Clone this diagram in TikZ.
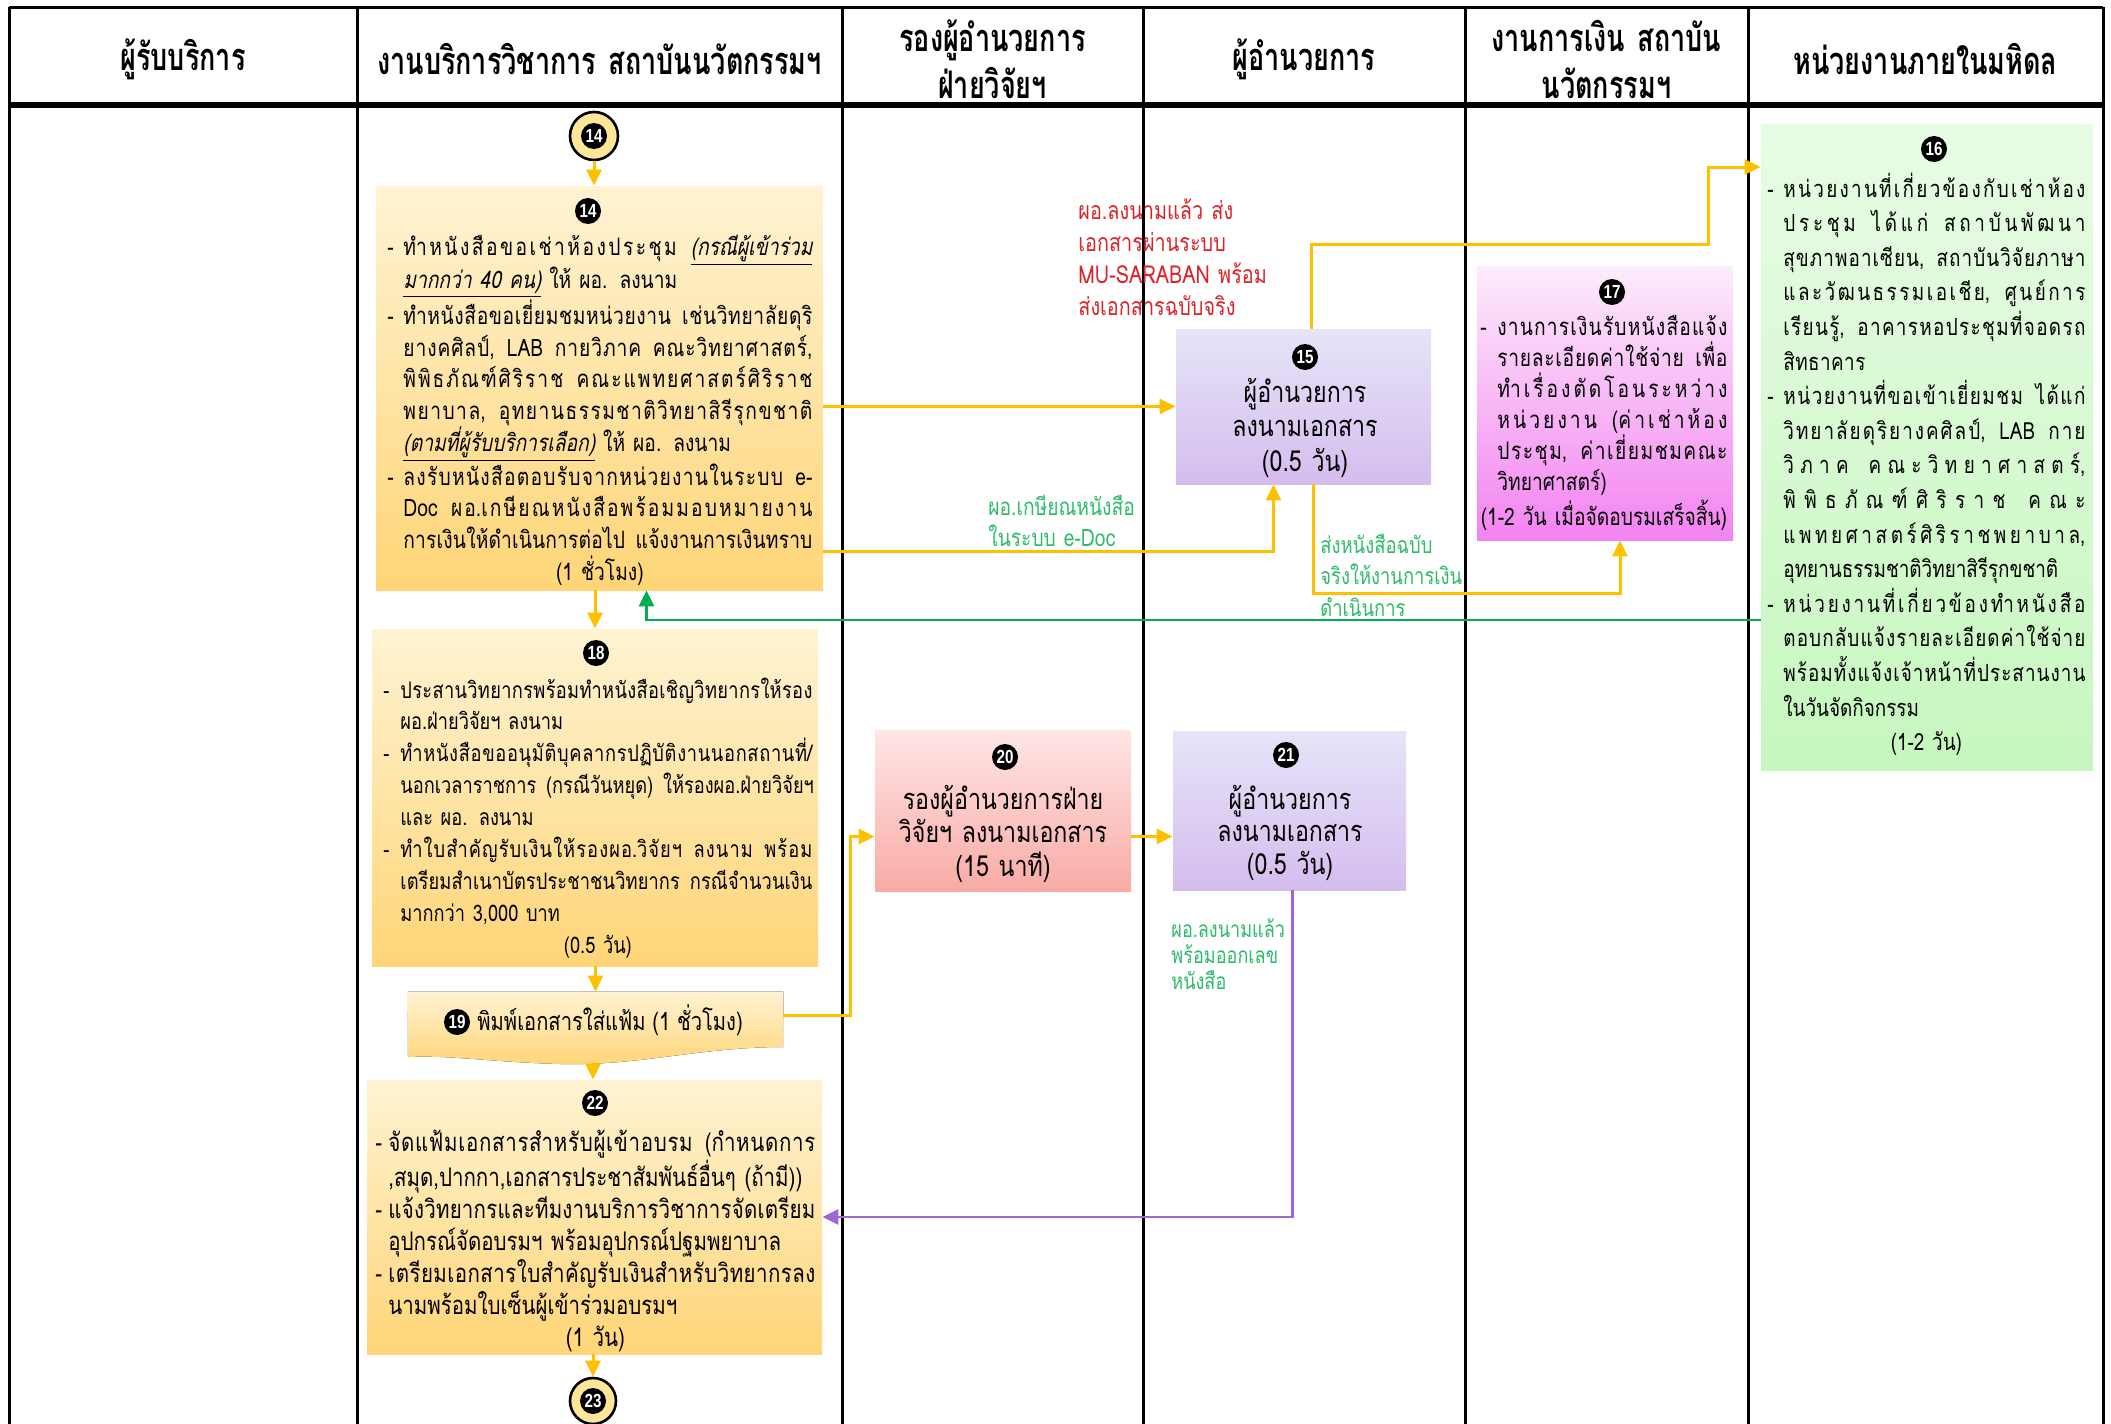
\documentclass[tikz,border=0pt]{standalone}
\usepackage{fontspec}
\usetikzlibrary{arrows.meta,calc}
\setmainfont[Script=Thai,FakeStretch=0.8]{Loma}
\newfontfamily\hfont[Script=Thai,FakeStretch=0.71]{Loma}
\newfontfamily\itfont[Script=Thai,FakeStretch=0.8,FakeSlant=0.2]{Loma}
\newfontfamily\numfont[FakeStretch=0.8]{Liberation Sans}
% ---- Thai distributed justification (glue between character clusters) ----
\newXeTeXintercharclass\thB
\newXeTeXintercharclass\thM
\newcount\tcnt
\tcnt="0E01
\loop\XeTeXcharclass\tcnt=\thB\advance\tcnt by 1\ifnum\tcnt<"0E5C\repeat
\XeTeXcharclass"0E31=\thM
\tcnt="0E33
\loop\XeTeXcharclass\tcnt=\thM\advance\tcnt by 1\ifnum\tcnt<"0E3B\repeat
\tcnt="0E47
\loop\XeTeXcharclass\tcnt=\thM\advance\tcnt by 1\ifnum\tcnt<"0E4F\repeat
\XeTeXinterchartoks\thB\thB={\hskip0pt plus 1fil\relax}
\XeTeXinterchartoks\thM\thB={\hskip0pt plus 1fil\relax}
\newlength\jw
\newlength\dw
\newcommand\Jl[1]{\hbox to \jw{\XeTeXinterchartokenstate=1
  \spaceskip=1.6\fontdimen2\font plus 1.5fil\relax #1}}
\newcommand\Dsh{\makebox[\dw][l]{-}}
\newcommand\Ind{\hspace*{\dw}}
\newcommand\Cl[1]{\makebox[\dimexpr\dw+\jw\relax]{#1}}
\definecolor{yTop}{HTML}{FFF3D3}
\definecolor{yBot}{HTML}{FFD577}
\definecolor{pTop}{HTML}{E6E4F8}
\definecolor{pBot}{HTML}{D5BDEE}
\definecolor{rTop}{HTML}{FFE6E6}
\definecolor{rBot}{HTML}{F8ABA5}
\definecolor{mTop}{HTML}{FCECFB}
\definecolor{mBot}{HTML}{F383F1}
\definecolor{gTop}{HTML}{E8FCE5}
\definecolor{gBot}{HTML}{C6F7BE}
\definecolor{cYel}{HTML}{FFE699}
\definecolor{arrOr}{HTML}{FFC000}
\definecolor{arrGr}{HTML}{00B050}
\definecolor{arrPu}{HTML}{A066D3}
\definecolor{lblGr}{HTML}{2EBB6A}
\definecolor{lblRd}{HTML}{DC2328}
\tikzset{
  lane/.style={line width=1.5pt,black},
  oarrow/.style={draw=arrOr,line width=1.5pt,-{Triangle[length=8pt,width=7.5pt]}},
  garrow/.style={draw=arrGr,line width=1.4pt,-{Triangle[length=8pt,width=7.5pt]}},
  parrow/.style={draw=arrPu,line width=1.4pt,-{Triangle[length=8pt,width=7.5pt]}},
  badge/.style={circle,fill=black,text=white,inner sep=0pt,minimum size=13pt,
    font=\numfont\bfseries\fontsize{9.5}{9.5}\selectfont},
  endcirc/.style={circle,fill=cYel,draw=black,line width=1.3pt,inner sep=0pt},
  ybox/.style={rectangle,inner sep=0pt,top color=yTop,bottom color=yBot},
  pbox/.style={rectangle,inner sep=0pt,top color=pTop,bottom color=pBot},
  rbox/.style={rectangle,inner sep=0pt,top color=rTop,bottom color=rBot},
  mbox/.style={rectangle,inner sep=0pt,top color=mTop,bottom color=mBot},
  gbox/.style={rectangle,inner sep=0pt,top color=gTop,bottom color=gBot},
  hdr/.style={inner sep=0pt,align=center,text width=235pt,
    font=\hfont\bfseries\fontsize{19}{23.5}\selectfont},
  txt/.style={anchor=base west,inner sep=0pt,align=left},
  ctxt/.style={anchor=base,inner sep=0pt,align=center},
}
\begin{document}
\begin{tikzpicture}[x=0.5pt,y=-0.5pt]
\useasboundingbox (0,0) rectangle (2111,1424);
% ---------- swimlane frame ----------
\draw[lane] (9,7) -- (2103,7);
\foreach \x in {9,357,842,1143,1465,1748,2103} \draw[lane] (\x,7) -- (\x,1424);
\draw[line width=3pt] (9,105) -- (2103,105);
% ---------- headers ----------
\node[hdr,text width=170pt] (h1) at (183,59) {ผู้รับบริการ};
\node[hdr] (h2) at (599.5,59) {งานบริการวิชาการ สถาบันนวัตกรรมฯ};
\node[hdr,text width=145pt] (h3) at (992.5,59.5) {รองผู้อำนวยการ\\ฝ่ายวิจัยฯ};
\node[hdr,text width=155pt] (h4) at (1304,59) {ผู้อำนวยการ};
\node[hdr,text width=140pt] (h5) at (1606.5,59.5) {งานการเงิน สถาบัน\\นวัตกรรมฯ};
\node[hdr,text width=175pt] (h6) at (1925.5,59) {หน่วยงานภายในมหิดล};
% ---------- boxes ----------
\node[endcirc,minimum size=24pt] (c14) at (594,136) {};
\node[badge] (n14a) at (594,136) {14};
\node[ybox,minimum width=223.5pt,minimum height=202pt] (b14) at (599.5,388) {};
\node[ybox,minimum width=223pt,minimum height=168.5pt] (b18) at (595,797.5) {};
\node[rectangle,inner sep=0pt,minimum width=187.5pt,minimum height=29pt] (b19) at (595.5,1021) {};
\fill[top color=yTop,bottom color=yBot] (b19.north west) -- (b19.north east) -- (783,1047)
  .. controls (700,1047) and (640,1066) .. (560,1064)
  .. controls (490,1062) and (450,1055) .. (408,1057) -- cycle;
\coordinate (b19w) at (593,1063);
\node[ybox,minimum width=227.5pt,minimum height=137pt] (b22) at (594.5,1217) {};
\node[endcirc,minimum size=23pt] (c23) at (593,1401) {};
\node[badge] (n23a) at (593,1401) {23};
\node[pbox,minimum width=127.5pt,minimum height=77.5pt] (b15) at (1303.5,406.5) {};
\node[mbox,minimum width=128pt,minimum height=137pt] (b17) at (1605,403) {};
\node[gbox,minimum width=166pt,minimum height=323pt] (b16) at (1927,447) {};
\node[rbox,minimum width=128pt,minimum height=80.5pt] (b20) at (1003,810.5) {};
\node[pbox,minimum width=116.5pt,minimum height=79.5pt] (b21) at (1289.5,810.5) {};
% ---------- badges ----------
\node[badge] (n14) at (588,211) {14};
\node[badge] (n15) at (1305,357) {15};
\node[badge] (n16) at (1934,149) {16};
\node[badge] (n17) at (1612,292) {17};
\node[badge] (n18) at (596,653) {18};
\node[badge] (n19) at (457,1022) {19};
\node[badge] (n20) at (1005,757) {20};
\node[badge] (n21) at (1286,755) {21};
\node[badge] (n22) at (595,1103) {22};
% ---------- box texts ----------
\node[txt,text width=225pt,font=\fontsize{12}{15.85}\selectfont] (t14) at (387,255) {%
\setlength\dw{8pt}\setlength\jw{204.5pt}%
\Dsh\Jl{ทำหนังสือขอเช่าห้องประชุม {\itfont\underline{(กรณีผู้เข้าร่วม}}}\\
\Ind{\itfont\underline{มากกว่า 40 คน)}} ให้ ผอ. ลงนาม\\
\Dsh\Jl{ทำหนังสือขอเยี่ยมชมหน่วยงาน เช่นวิทยาลัยดุริ}\\
\Ind\Jl{ยางคศิลป์, LAB กายวิภาค คณะวิทยาศาสตร์,}\\
\Ind\Jl{พิพิธภัณฑ์ศิริราช คณะแพทยศาสตร์ศิริราช}\\
\Ind\Jl{พยาบาล, อุทยานธรรมชาติวิทยาสิรีรุกขชาติ}\\
\Ind{\itfont\underline{(ตามที่ผู้รับบริการเลือก)}} ให้ ผอ. ลงนาม\\
\Dsh\Jl{ลงรับหนังสือตอบรับจากหน่วยงานในระบบ e-}\\
\Ind\Jl{Doc ผอ.เกษียณหนังสือพร้อมมอบหมายงาน}\\
\Ind\Jl{การเงินให้ดำเนินการต่อไป แจ้งงานการเงินทราบ}\\
\Cl{(1 ชั่วโมง)}};
\node[txt,text width=228pt,font=\fontsize{11.4}{15.95}\selectfont] (t18) at (383,698) {%
\setlength\dw{8.5pt}\setlength\jw{206pt}%
\Dsh\Jl{ประสานวิทยากรพร้อมทำหนังสือเชิญวิทยากรให้รอง}\\
\Ind ผอ.ฝ่ายวิจัยฯ ลงนาม\\
\Dsh\Jl{ทำหนังสือขออนุมัติบุคลากรปฏิบัติงานนอกสถานที่/}\\
\Ind\Jl{นอกเวลาราชการ (กรณีวันหยุด) ให้รองผอ.ฝ่ายวิจัยฯ}\\
\Ind และ ผอ. ลงนาม\\
\Dsh\Jl{ทำใบสำคัญรับเงินให้รองผอ.วิจัยฯ ลงนาม พร้อม}\\
\Ind\Jl{เตรียมสำเนาบัตรประชาชนวิทยากร กรณีจำนวนเงิน}\\
\Ind มากกว่า 3,000 บาท\\
\Cl{(0.5 วัน)}};
\node[txt,font=\fontsize{12.6}{16}\selectfont] (t19) at (477,1030) {พิมพ์เอกสารใส่แฟ้ม (1 ชั่วโมง)};
\node[txt,text width=235pt,font=\fontsize{12.8}{16}\selectfont] (t22) at (375,1151) {%
\setlength\dw{6.5pt}\setlength\jw{213.5pt}%
\Dsh\Jl{จัดแฟ้มเอกสารสำหรับผู้เข้าอบรม (กำหนดการ}\\
\Ind,สมุด,ปากกา,เอกสารประชาสัมพันธ์อื่นๆ (ถ้ามี))\\
\Dsh\Jl{แจ้งวิทยากรและทีมงานบริการวิชาการจัดเตรียม}\\
\Ind อุปกรณ์จัดอบรมฯ พร้อมอุปกรณ์ปฐมพยาบาล\\
\Dsh\Jl{เตรียมเอกสารใบสำคัญรับเงินสำหรับวิทยากรลง}\\
\Ind นามพร้อมใบเซ็นผู้เข้าร่วมอบรมฯ\\
\Cl{(1 วัน)}};
\node[ctxt,text width=125pt,font=\fontsize{14.5}{17.25}\selectfont] (t15) at (1305,402) {%
ผู้อำนวยการ\\ลงนามเอกสาร\\(0.5 วัน)};
\node[ctxt,text width=125pt,font=\fontsize{14.5}{16.75}\selectfont] (t20) at (1003,809) {%
รองผู้อำนวยการฝ่าย\\วิจัยฯ ลงนามเอกสาร\\(15 นาที)};
\node[ctxt,text width=115pt,font=\fontsize{14.5}{16.25}\selectfont] (t21) at (1290,809) {%
ผู้อำนวยการ\\ลงนามเอกสาร\\(0.5 วัน)};
\node[txt,text width=130pt,font=\fontsize{12}{15.5}\selectfont] (t17) at (1480,335) {%
\setlength\dw{8.5pt}\setlength\jw{115pt}%
\Dsh\Jl{งานการเงินรับหนังสือแจ้ง}\\
\Ind\Jl{รายละเอียดค่าใช้จ่าย เพื่อ}\\
\Ind\Jl{ทำเรื่องตัดโอนระหว่าง}\\
\Ind\Jl{หน่วยงาน (ค่าเช่าห้อง}\\
\Ind\Jl{ประชุม, ค่าเยี่ยมชมคณะ}\\
\Ind วิทยาศาสตร์)\\[2pt]
\Cl{(1-2 วัน เมื่อจัดอบรมเสร็จสิ้น)}};
\node[txt,text width=166pt,font=\fontsize{11.8}{17.3}\selectfont] (t16) at (1767,197) {%
\setlength\dw{8pt}\setlength\jw{151pt}%
\Dsh\Jl{หน่วยงานที่เกี่ยวข้องกับเช่าห้อง}\\
\Ind\Jl{ประชุม ได้แก่ สถาบันพัฒนา}\\
\Ind\Jl{สุขภาพอาเซียน, สถาบันวิจัยภาษา}\\
\Ind\Jl{และวัฒนธรรมเอเชีย, ศูนย์การ}\\
\Ind\Jl{เรียนรู้, อาคารหอประชุมที่จอดรถ}\\
\Ind{\setlength\jw{41pt}\Jl{สิทธาคาร}}\\
\Dsh\Jl{หน่วยงานที่ขอเข้าเยี่ยมชม ได้แก่}\\
\Ind\Jl{วิทยาลัยดุริยางคศิลป์, LAB กาย}\\
\Ind\Jl{วิภาค คณะวิทยาศาสตร์,}\\
\Ind\Jl{พิพิธภัณฑ์ศิริราช คณะ}\\
\Ind\Jl{แพทยศาสตร์ศิริราชพยาบาล,}\\
\Ind อุทยานธรรมชาติวิทยาสิรีรุกขชาติ\\
\Dsh\Jl{หน่วยงานที่เกี่ยวข้องทำหนังสือ}\\
\Ind\Jl{ตอบกลับแจ้งรายละเอียดค่าใช้จ่าย}\\
\Ind\Jl{พร้อมทั้งแจ้งเจ้าหน้าที่ประสานงาน}\\
\Ind ในวันจัดกิจกรรม\\
\Cl{(1-2 วัน)}};
% ---------- connector labels ----------
\node[txt,text width=110pt,text=lblRd,font=\fontsize{12.4}{16.15}\selectfont] (l1) at (1078,219) {%
ผอ.ลงนามแล้ว ส่ง\\เอกสารผ่านระบบ\\MU-SARABAN พร้อม\\ส่งเอกสารฉบับจริง};
\node[txt,text width=90pt,text=lblGr,font=\fontsize{12}{15.5}\selectfont] (l2) at (988,515) {%
ผอ.เกษียณหนังสือ\\ในระบบ e-Doc};
\node[txt,text width=90pt,text=lblGr,font=\fontsize{11.5}{15.75}\selectfont] (l3) at (1320,553) {%
ส่งหนังสือฉบับ\\จริงให้งานการเงิน\\ดำเนินการ};
\node[txt,text width=80pt,text=lblGr,font=\fontsize{11.3}{13}\selectfont] (l4) at (1171,937) {%
ผอ.ลงนามแล้ว\\พร้อมออกเลข\\หนังสือ};
% ---------- connectors ----------
\draw[oarrow] (c14.south) -- (c14.south |- b14.north);
\draw[oarrow] (b18.north |- b14.south) -- (b18.north);
\draw[oarrow] (b19.north |- b18.south) -- (b19.north);
\draw[oarrow] (b19w) -- (b19w |- b22.north);
\draw[oarrow] (c23.north |- b22.south) -- (c23.north);
\draw[oarrow] (b14.east |- b15.west) -- (b15.west);
\draw[oarrow] ($(b14.east)+(0,163)$) -| ($(b15.south)+(-30,0)$);
\coordinate (k0) at (1708,244);
\coordinate (k1) at (1708,167);
\draw[oarrow] ($(b15.north)+(8,0)$) |- (k0) |- (b16.west |- k1);
\draw[oarrow] ($(b15.south)+(10,0)$) |- ($(b17.south)+(15,53)$) -- ($(b17.south)+(15,0)$);
\draw[garrow] ($(b16.west)+(0,173)$) -| ($(b14.south)+(47,0)$);
\draw[oarrow] ($(b19.east)+(0,-6)$) -| ($(b20.west)+(-24,26)$) -- ($(b20.west)+(0,26)$);
\draw[oarrow] ($(b20.east)+(0,26)$) -- ($(b21.west)+(0,26)$);
\draw[parrow] ($(b21.south)+(3,0)$) |- (b22.east);
\end{tikzpicture}
\end{document}
